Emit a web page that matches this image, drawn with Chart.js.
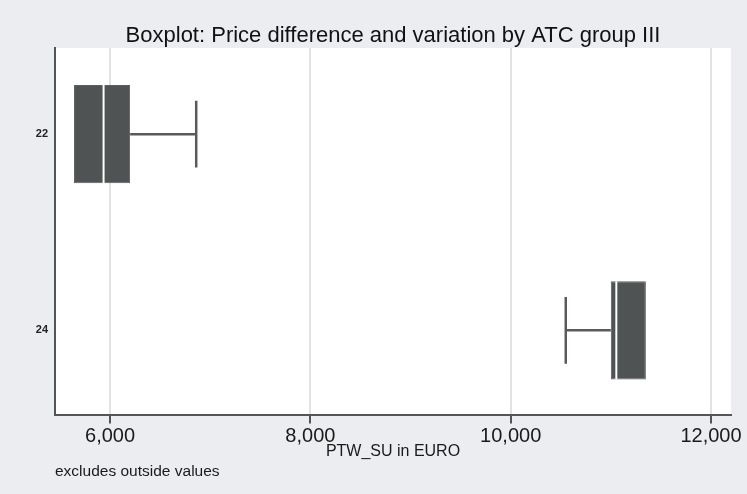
<!DOCTYPE html>
<html>
<head>
<meta charset="utf-8">
<script src="https://cdn.jsdelivr.net/npm/chart.js@4/dist/chart.umd.min.js"></script>
<style>
  body { margin: 0; background: #ebedf0; }
  canvas { display: block; }
</style>
</head>
<body>
<canvas id="boxplot" width="747" height="494"></canvas>
<script>
// ATC groups and box statistics (PTW_SU in EURO)
const groups = ["22", "24"];
const lowerWhisker = [5640, 10550];
const q1 = [5640, 11000];
const median = [5935, 11055];
const q3 = [6200, 11350];
const upperWhisker = [6860, 11350];

const xTicks = [6000, 8000, 10000, 12000];

const boxColor = "#4f5353";
const whiskerColor = "#5d5959";

// Paint the gray page and white plot region
const background = {
  id: "background",
  beforeDraw(chart) {
    const { ctx, chartArea } = chart;
    ctx.save();
    ctx.fillStyle = "#ebedf0";
    ctx.fillRect(0, 0, chart.width, chart.height);
    ctx.fillStyle = "#ffffff";
    ctx.fillRect(chartArea.left, chartArea.top, chartArea.right - chartArea.left, chartArea.bottom - chartArea.top);
    ctx.restore();
  },
};

const datasets = [
  {
    type: "bar",
    label: "box",
    data: groups.map((g, i) => ({ x: [q1[i], q3[i]], y: i })),
    backgroundColor: boxColor,
    borderColor: "#5a5e5e",
    borderWidth: 1,
    borderSkipped: false,
    categoryPercentage: 1,
    barPercentage: 0.5,
    order: 1,
  },
];

groups.forEach((g, i) => {
  // median line
  datasets.push({
    type: "line",
    label: "median " + g,
    data: [
      { x: median[i], y: i - 0.25 },
      { x: median[i], y: i + 0.25 },
    ],
    borderColor: "#ffffff",
    borderWidth: 2,
    pointRadius: 0,
    fill: false,
    order: 0,
  });
  // whiskers with caps (none when the whisker ends at the box)
  [
    [q1[i], lowerWhisker[i]],
    [q3[i], upperWhisker[i]],
  ].forEach(([from, to]) => {
    if (from === to) return;
    datasets.push({
      type: "line",
      label: "whisker " + g,
      data: [
        { x: from, y: i },
        { x: to, y: i },
        { x: to, y: i - 0.17 },
        { x: to, y: i + 0.17 },
      ],
      borderColor: whiskerColor,
      borderWidth: 2.5,
      pointRadius: 0,
      fill: false,
      order: 2,
    });
  });
});

new Chart(document.getElementById("boxplot").getContext("2d"), {
  type: "bar",
  data: { datasets: datasets },
  plugins: [background],
  options: {
    responsive: false,
    animation: false,
    indexAxis: "y",
    layout: { padding: { left: 0, right: 16, top: 0, bottom: 0 } },
    scales: {
      x: {
        type: "linear",
        min: 5450,
        max: 12200,
        afterBuildTicks: (scale) => {
          scale.ticks = xTicks.map((v) => ({ value: v }));
        },
        grid: {
          color: "#e2e2e2",
          lineWidth: 2,
          drawTicks: true,
          tickLength: 9,
          tickColor: "#555555",
          tickWidth: 2,
        },
        border: { display: true, color: "#555555", width: 2 },
        ticks: {
          color: "#1a1a1a",
          padding: 3,
          maxRotation: 0,
          font: { family: "Liberation Sans", size: 20, lineHeight: 1 },
          callback: (value) => value.toLocaleString("en-US"),
        },
        title: {
          display: true,
          text: "PTW_SU in EURO",
          color: "#1a1a1a",
          padding: { top: -6, bottom: 2 },
          font: { family: "Liberation Sans", size: 16, lineHeight: 1 },
        },
      },
      y: {
        type: "linear",
        reverse: true,
        offset: false,
        min: -0.439,
        max: 1.429,
        afterBuildTicks: (scale) => {
          scale.ticks = groups.map((g, i) => ({ value: i }));
        },
        afterFit: (scale) => {
          scale.width = 55;
        },
        grid: { display: false, drawTicks: false, offset: false },
        border: { display: true, color: "#555555", width: 2 },
        ticks: {
          color: "#222222",
          padding: 7,
          font: { family: "Liberation Sans", size: 11, weight: "bold" },
          callback: (value) => groups[value],
        },
      },
    },
    plugins: {
      legend: { display: false },
      tooltip: { enabled: false },
      title: {
        display: true,
        fullSize: false,
        text: "Boxplot: Price difference and variation by ATC group III",
        color: "#111111",
        padding: { top: 25, bottom: 1 },
        font: { family: "Liberation Sans", size: 22, weight: "normal", lineHeight: 1 },
      },
      subtitle: {
        display: true,
        fullSize: false,
        position: "bottom",
        align: "start",
        text: "excludes outside values",
        color: "#1a1a1a",
        padding: { top: 2, bottom: 15 },
        font: { family: "Liberation Sans", size: 15.5, lineHeight: 1 },
      },
    },
  },
});
</script>
</body>
</html>
